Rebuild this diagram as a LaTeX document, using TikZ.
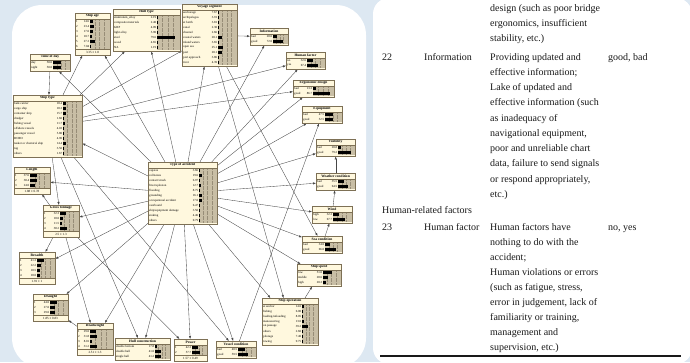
\documentclass[tikz,border=0pt]{standalone}
\usepackage{fontspec}
\setmainfont{Liberation Serif}
\usetikzlibrary{arrows.meta}
\definecolor{bnpaper}{RGB}{255,248,222}
\definecolor{bnshade}{RGB}{200,190,165}
\definecolor{bnframe}{RGB}{125,112,85}
\definecolor{bnlink}{RGB}{70,70,70}
\definecolor{pageblue}{RGB}{221,232,242}
\definecolor{tabink}{RGB}{25,25,25}
\pgfdeclarelayer{back}
\pgfdeclarelayer{links}
\pgfsetlayers{back,links,main}

% Netica box: name, x, y, width, label width, rows, title, states, footer
\newcommand{\bnnode}[9]{%
  \pgfmathsetmacro{\bnbot}{#3+6+#6*5}%
  \def\bnfoot{#9}%
  \ifx\bnfoot\empty
    \pgfmathsetmacro{\bnh}{7+#6*5}%
  \else
    \pgfmathsetmacro{\bnh}{12+#6*5}%
  \fi
  \pgfmathsetmacro{\bnbx}{#2+#5+9}%
  \pgfmathsetmacro{\bnbw}{#4-#5-10}%
  \node[bnbox, minimum width=#4pt, minimum height=\bnh pt, anchor=north west] (#1) at (#2,#3) {};
  \fill[bnfill] (\bnbx,#3+6) rectangle (#2+#4-0.3,\bnbot);
  \foreach \f in {0.25,0.5,0.75}
    \draw[bngrid] (\bnbx+\f*\bnbw,#3+6) -- (\bnbx+\f*\bnbw,\bnbot);
  \draw[bnrule] (#2,#3+6) -- (#2+#4,#3+6);
  \node[bntitle] at (#2+#4/2,#3+3) {#7};
  \foreach \lab/\val [count=\i] in {#8} {
    \node[bnlab] at (#2+1,#3+3.5+\i*5) {\lab};
    \node[bnval] at (\bnbx-0.6,#3+3.5+\i*5) {\val};
    \fill[black] (\bnbx,#3+2+\i*5) rectangle (\bnbx+\val/100*\bnbw,#3+5+\i*5);
  }
  \ifx\bnfoot\empty\else
    \draw[bnrule] (#2,\bnbot) -- (#2+#4,\bnbot);
    \node[bntitle, font=\fontsize{3.2}{3.6}\selectfont] at (#2+#4/2,\bnbot+3) {#9};
  \fi
  \draw[bnrule] (#1.north west) rectangle (#1.south east);
}

\begin{document}
\begin{tikzpicture}[x=1pt, y=-1pt,
  bnbox/.style={draw=bnframe, fill=bnpaper, line width=0.4pt, inner sep=0pt},
  bnfill/.style={fill=bnshade},
  bngrid/.style={draw=bnframe!80, densely dotted, line width=0.25pt},
  bnrule/.style={draw=bnframe, line width=0.35pt},
  bntitle/.style={inner sep=0pt, font=\fontsize{3.6}{4}\selectfont\bfseries},
  bnlab/.style={inner sep=0pt, anchor=west, font=\fontsize{3.1}{3.5}\selectfont},
  bnval/.style={inner sep=0pt, anchor=east, font=\fontsize{3.1}{3.5}\selectfont},
  link/.style={-{Latex[length=3pt,width=2.2pt]}, draw=bnlink, line width=0.35pt},
  tabtext/.style={inner sep=0pt, anchor=base west, text=tabink, font=\fontsize{10}{11}\selectfont}]
\useasboundingbox (0,0) rectangle (690,362);

% Page and cards
\begin{pgfonlayer}{back}
  \fill[pageblue] (0,0) rectangle (690,362);
  \fill[white, rounded corners=30pt] (12,5) rectangle (366,368);
  \fill[white, rounded corners=16pt] (373,-2) rectangle (692,364);
\end{pgfonlayer}

% Ship nodes
\bnnode{shipage}{75}{13}{35}{6}{6}{Ship age}{1/14.6,2/23.4,3/17.0,4/10.7,5/27.3,6/7.04}{3.35 ± 1.8}
\bnnode{hulltype}{113}{9}{67}{35}{7}{Hull type}{aluminium\_alloy/2.19,composite materials/2.40,GRP/4.09,light alloy/5.90,steel/79.6,wood/4.65,NA/1.19}{}
\bnnode{timeofday}{30}{54}{40}{14}{2}{Time of day}{day/50.0,night/50.0}{}
\bnnode{voyage}{182}{4}{55}{27}{11}{Voyage segment}{anchorage/7.67,archipelagos/3.91,at berth/3.81,canal/2.30,channel/2.66,coastal waters/20.1,inland waters/3.65,open sea/25.1,port/20.1,port approach/3.86,river/4.39}{}
\bnnode{shiptype}{13}{95}{69}{41}{11}{Ship type}{bulk carrier/18.4,cargo ship/18.3,container ship/15.7,dredger/1.60,fishing vessel/11.7,offshore vessels/4.03,passenger vessel/5.80,RORO/4.90,tanker or chemical ship/14.4,tug/3.50,others/1.67}{}
\bnnode{length}{14}{167}{36}{7}{3}{Length}{1/37.6,2/38.4,3/24.0}{1.88 ± 0.78}
\bnnode{grosston}{43}{205}{36}{8}{4}{Gross tonnage}{1/32.3,2/18.0,3/11.5,4/38.2}{2.5 ± 1.3}
\bnnode{breadth}{19}{252}{36}{9}{4}{Breadth}{1/41.3,2/22.2,3/18.5,4/18.0}{1.91 ± 1}
\bnnode{draught}{33}{294}{35}{8}{3}{Draught}{1/44.0,2/27.0,3/29.0}{1.85 ± 0.83}
\bnnode{deadweight}{77}{323}{36}{4}{4}{Deadweight}{1/29.0,2/31.8,3/8.01,4/31.2}{2.51 ± 1.3}
\bnnode{hullconst}{115}{338}{55}{31}{3}{Hull construction}{double bottom/17.8,double hull/41.0,single hull/41.2}{}
\bnnode{power}{174}{339}{33}{9}{2}{Power}{1/42.3,2/57.7}{1.57 ± 0.49}
\bnnode{vesselcond}{216}{341}{40}{13}{2}{Vessel condition}{bad/40.5,good/59.5}{}

% Operation and environment
\bnnode{information}{250}{28}{38}{14}{2}{Information}{bad/28.0,good/72.0}{}
\bnnode{humanfactor}{286}{52}{39}{12}{2}{Human factor}{no/32.6,yes/67.4}{}
\bnnode{ergonomic}{293}{80}{41}{11}{2}{Ergonomic design}{bad/13.3,good/86.7}{}
\bnnode{equipment}{302}{106}{40}{14}{2}{Equipment}{bad/47.5,good/52.5}{}
\bnnode{visibility}{316}{139}{39}{13}{2}{Visibility}{bad/20.8,good/79.2}{}
\bnnode{weather}{316}{173}{39}{13}{2}{Weather condition}{bad/35.5,good/64.5}{}
\bnnode{wind}{312}{206}{40}{12}{2}{Wind}{high/32.3,low/67.7}{}
\bnnode{seacond}{302}{236}{40}{14}{2}{Sea condition}{bad/34.0,good/66.0}{}
\bnnode{shipspeed}{297}{264}{44}{17}{3}{Ship speed}{low/51.0,middle/28.6,high/20.3}{}
\bnnode{shipoperation}{262}{298}{56}{31}{8}{Ship operation}{at anchor/14.0,fishing/6.00,loading\slash unloading/8.05,manoeuvring/13.0,on passage/39.2,others/2.60,pilotage/7.40,towing/9.75}{}

% Class node
\bnnode{accident}{148}{162}{69}{42}{11}{Type of accident}{capsize/3.66,collisions/19.6,contact\slash crush/6.97,fire\slash explosion/12.7,flooding/8.75,grounding/16.1,occupational accident/17.0,overboard/6.47,ship\slash equipment damage/3.50,sinking/4.46,others/0.79}{}

% Links
\begin{pgfonlayer}{links}
  \foreach \b in {timeofday,shiptype,shipage,hulltype,voyage,information,humanfactor,ergonomic,equipment,visibility,weather,wind,seacond,shipspeed,shipoperation,vesselcond,power,hullconst,deadweight,draught,breadth,grosston,length}
    \draw[link] (accident) -- (\b);
  \foreach \a/\b in {timeofday/shiptype,shiptype/shipage,shiptype/hulltype,shiptype/voyage,shiptype/humanfactor,shiptype/ergonomic,shiptype/grosston,shiptype/vesselcond,shiptype/hullconst,grosston/length,grosston/breadth,grosston/deadweight,grosston/power,deadweight/draught,voyage/information,voyage/shipoperation,voyage/seacond,shipoperation/shipspeed,seacond/wind,wind/weather,weather/visibility,vesselcond/equipment}
    \draw[link] (\a) -- (\b);
\end{pgfonlayer}

% Table excerpt
\foreach \t [count=\k from 0] in {{design (such as poor bridge},{ergonomics, insufficient},{stability, etc.)}}
  \node[tabtext] (dz\k) at (490,11+15.3*\k) {\t};
\foreach \t [count=\k from 0] in {{Providing updated and},{effective information;},{Lake of updated and},{effective information (such},{as inadequacy of},{navigational equipment,},{poor and unreliable chart},{data, failure to send signals},{or respond appropriately,},{etc.)}}
  \node[tabtext] (da\k) at (490,60+15.25*\k) {\t};
\foreach \t [count=\k from 0] in {{Human factors have},{nothing to do with the},{accident;},{Human violations or errors},{(such as fatigue, stress,},{error in judgement, lack of},{familiarity or training,},{management and},{supervision, etc.)}}
  \node[tabtext] (db\k) at (490,230+15.05*\k) {\t};

\node[tabtext] (num22) at (382,60) {22};
\node[tabtext] (name22) at (424,60) {Information};
\node[tabtext] (val22) at (608,60) {good, bad};
\node[tabtext] (group) at (382,213.5) {Human-related factors};
\node[tabtext] (num23) at (382,230) {23};
\node[tabtext] (name23) at (424,230) {Human factor};
\node[tabtext] (val23) at (608,230) {no, yes};
\draw[tabink, line width=1.3pt] (380,356) -- (681,356);
\end{tikzpicture}
\end{document}
